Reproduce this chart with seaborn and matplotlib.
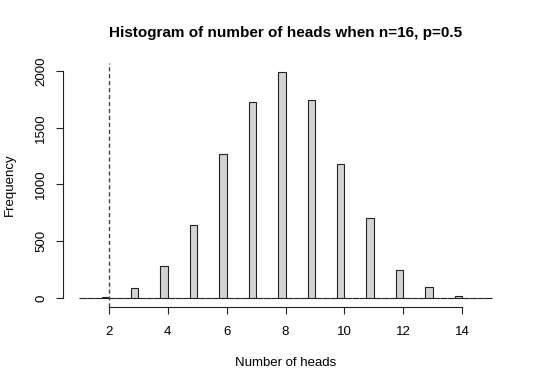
import numpy as np
import pandas as pd
import matplotlib
matplotlib.use("Agg")
import matplotlib.pyplot as plt
import seaborn as sns

# Data: number of heads and their frequencies (10000 simulations, n=16, p=0.5)
heads = [2, 3, 4, 5, 6, 7, 8, 9, 10, 11, 12, 13, 14]
counts = [12, 88, 282, 640, 1271, 1723, 1991, 1744, 1183, 701, 249, 93, 17]
x_ticks = [2, 4, 6, 8, 10, 12, 14]
y_ticks = [0, 500, 1000, 1500, 2000]
ref_line = 2
title = "Histogram of number of heads when n=16, p=0.5"
xlabel = "Number of heads"
ylabel = "Frequency"

sns.set_theme(style="white")
plt.rcParams['font.family'] = ['Liberation Sans', 'DejaVu Sans']
plt.rcParams['text.color'] = 'black'

df = pd.DataFrame({"heads": heads, "count": counts})

fig = plt.figure(figsize=(5.4, 3.86), dpi=100)
ax = fig.add_axes([63/540, 1 - 307/386, (508-63)/540, (307-63)/386])

# R-style right-closed bins of width 0.25 from 1 to 15
eps = 1e-9
sns.histplot(data=df, x="heads", weights="count", binwidth=0.25,
             binrange=(1.0 + eps, 15.0 + eps), ax=ax,
             color="#D3D3D3", edgecolor="#222222", linewidth=0.8, alpha=1.0)

ax.axvline(ref_line, color="#444444", linestyle=(0, (3, 2)), linewidth=1.0)

ax.set_xlim(0.44, 15.56)
ax.set_ylim(-80, 2071)

ax.set_xticks(x_ticks)
ax.set_yticks(y_ticks)
ax.set_xticklabels([str(v) for v in x_ticks])
ax.set_yticklabels([str(v) for v in y_ticks], rotation=90, va="center")
for s in ["top", "right"]:
    ax.spines[s].set_visible(False)
ax.spines["left"].set_bounds(y_ticks[0], y_ticks[-1])
ax.spines["bottom"].set_bounds(x_ticks[0], x_ticks[-1])
for s in ["left", "bottom"]:
    ax.spines[s].set_color("#222222")
    ax.spines[s].set_linewidth(0.8)
ax.tick_params(axis="both", which="both", direction="out", length=5, width=0.8,
               color="#222222", labelsize=9.5, labelcolor="black",
               bottom=True, left=True)
ax.tick_params(axis="x", pad=8.5)
ax.tick_params(axis="y", pad=6.5)

ax.set_xlabel(xlabel, fontsize=9.5, color="black")
ax.set_ylabel(ylabel, fontsize=9.5, color="black")
ax.xaxis.set_label_coords(0.5, -(363 - 307) / 244)
ax.xaxis.label.set_verticalalignment("center")
ax.yaxis.set_label_coords((9.5 - 63) / 445, 0.5)
ax.yaxis.label.set_verticalalignment("center")
ax.set_title(title, fontsize=11, fontweight="bold", color="black",
             y=(307 - 33.5) / 244, pad=0, va="center")
ax.grid(False)

fig.savefig("out.png", dpi=100)
